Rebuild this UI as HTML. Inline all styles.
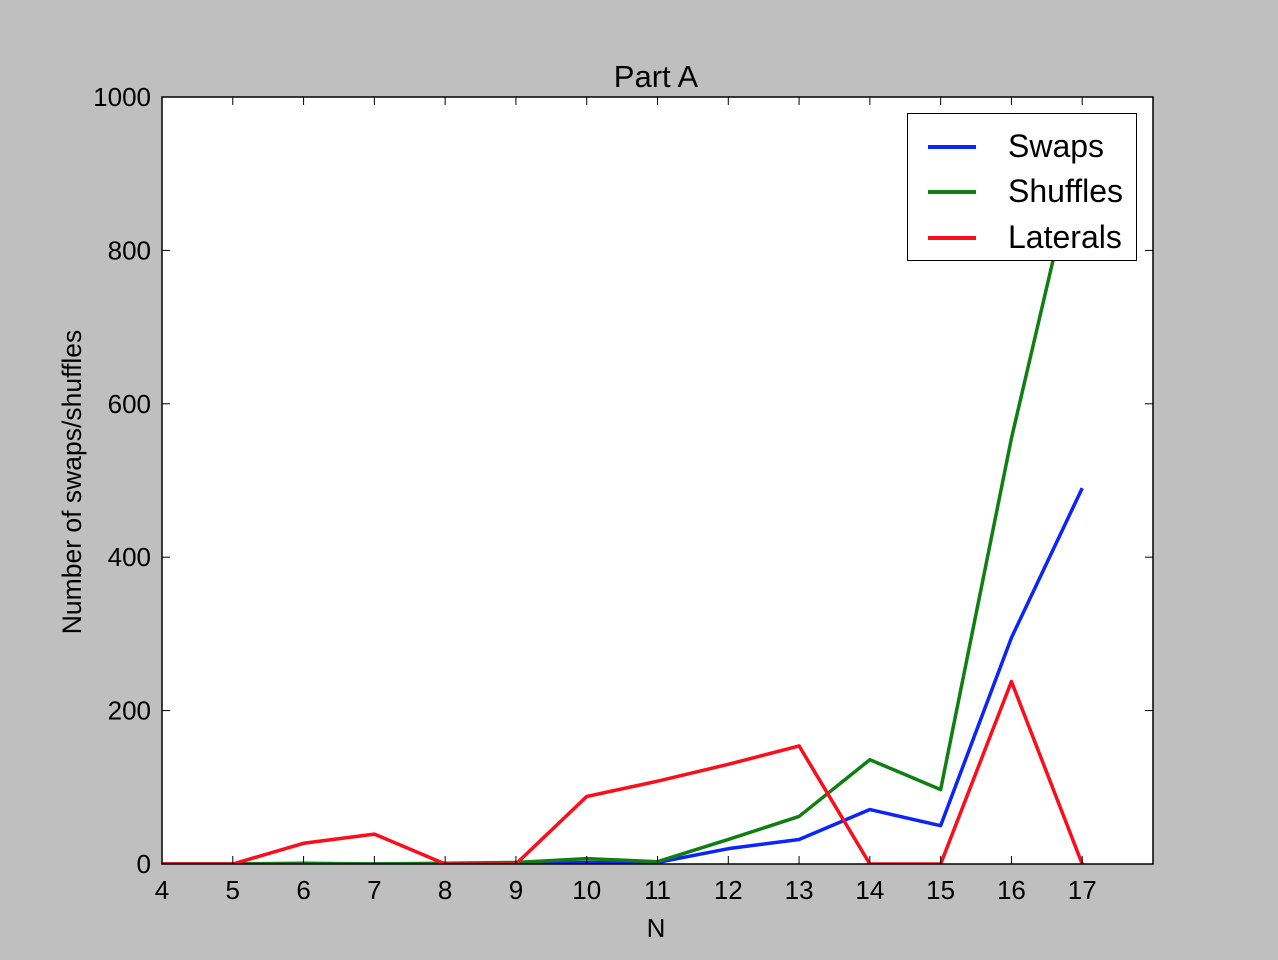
<!DOCTYPE html>
<html><head><meta charset="utf-8"><style>
html,body{margin:0;padding:0;background:#bfbfbf;}
#wrap{position:relative;width:1278px;height:960px;}
svg{display:block;font-family:"Liberation Sans",sans-serif;position:absolute;left:0;top:0;}
#legend{position:absolute;left:907px;top:113px;width:228px;height:146px;background:#fff;border:1.5px solid #000;z-index:2;font-family:"Liberation Sans",sans-serif;font-size:32px;}
.entry{position:absolute;left:0;height:40px;width:228px;}
.sw{position:absolute;left:20px;width:48px;height:3.5px;}
.lb{position:absolute;left:100px;line-height:36px;}
</style></head><body>
<div id="wrap">
<svg id="chart" width="1278" height="960" viewBox="0 0 1278 960" xmlns="http://www.w3.org/2000/svg">
<rect width="1278" height="960" fill="#bfbfbf"/>
<defs><clipPath id="clip"><rect x="162" y="97" width="991" height="767"/></clipPath></defs>
<rect x="162" y="97" width="991" height="767" fill="#fff"/>
<g id="lines" clip-path="url(#clip)"></g>
<g id="axes"></g>
<rect x="162" y="97" width="991" height="767" fill="none" stroke="#000" stroke-width="1.5"/>
<text x="656" y="87" font-size="31" text-anchor="middle">Part A</text>
<text x="656" y="937" font-size="26" text-anchor="middle">N</text>
<text transform="translate(81,482) rotate(-90)" font-size="26.5" text-anchor="middle">Number of swaps/shuffles</text>
</svg>
<div id="legend">
<div class="entry" style="top:14px"><div class="sw" style="top:17px;background:#0b24fb"></div><div class="lb">Swaps</div></div>
<div class="entry" style="top:59px"><div class="sw" style="top:17px;background:#0f7f12"></div><div class="lb">Shuffles</div></div>
<div class="entry" style="top:105px"><div class="sw" style="top:17px;background:#fc0d1b"></div><div class="lb">Laterals</div></div>
</div>
</div>
<script>
const categories=[4,5,6,7,8,9,10,11,12,13,14,15,16,17];
const swaps=[0,0,0,0,0,1,2,2,20,32,71,50,295,490];
const shuffles=[0,0,1,0,1,2,7,3,32,62,136,97,555,950];
const laterals=[0,0,27,39,0,0,88,108,130,154,0,0,238,0];
const xTicks=[4,5,6,7,8,9,10,11,12,13,14,15,16,17];
const yTicks=[0,200,400,600,800,1000];
const X0=162,X1=1153,Y0=864,Y1=97;
const xs=v=>X0+(v-4)/(18-4)*(X1-X0);
const ys=v=>Y0-(v/1000)*(Y0-Y1);
const NS="http://www.w3.org/2000/svg";
const lines=document.getElementById('lines'),axes=document.getElementById('axes');
function mk(t,a,p){const e=document.createElementNS(NS,t);for(const k in a)e.setAttribute(k,a[k]);p.appendChild(e);return e;}
[[swaps,'#0b24fb','series-swaps'],[shuffles,'#0f7f12','series-shuffles'],[laterals,'#fc0d1b','series-laterals']].forEach(([d,c,n])=>{
const p=mk('polyline',{points:d.map((v,i)=>xs(categories[i])+','+ys(v)).join(' '),fill:'none',stroke:c,'stroke-width':3.5,'stroke-linejoin':'round'},lines);


});
xTicks.forEach(t=>{const x=xs(t);
mk('line',{x1:x,y1:Y0,x2:x,y2:Y0-8,stroke:'#000','stroke-width':1},axes);
mk('line',{x1:x,y1:Y1,x2:x,y2:Y1+8,stroke:'#000','stroke-width':1},axes);
const e=mk('text',{x:x,y:Y0+35,'font-size':26,'text-anchor':'middle'},axes);e.textContent=t;


});
yTicks.forEach(t=>{const y=ys(t);
mk('line',{x1:X0,y1:y,x2:X0+8,y2:y,stroke:'#000','stroke-width':1},axes);
mk('line',{x1:X1,y1:y,x2:X1-8,y2:y,stroke:'#000','stroke-width':1},axes);
const e=mk('text',{x:X0-11,y:y+9,'font-size':26,'text-anchor':'end'},axes);e.textContent=t;


});
</script>
</body></html>
